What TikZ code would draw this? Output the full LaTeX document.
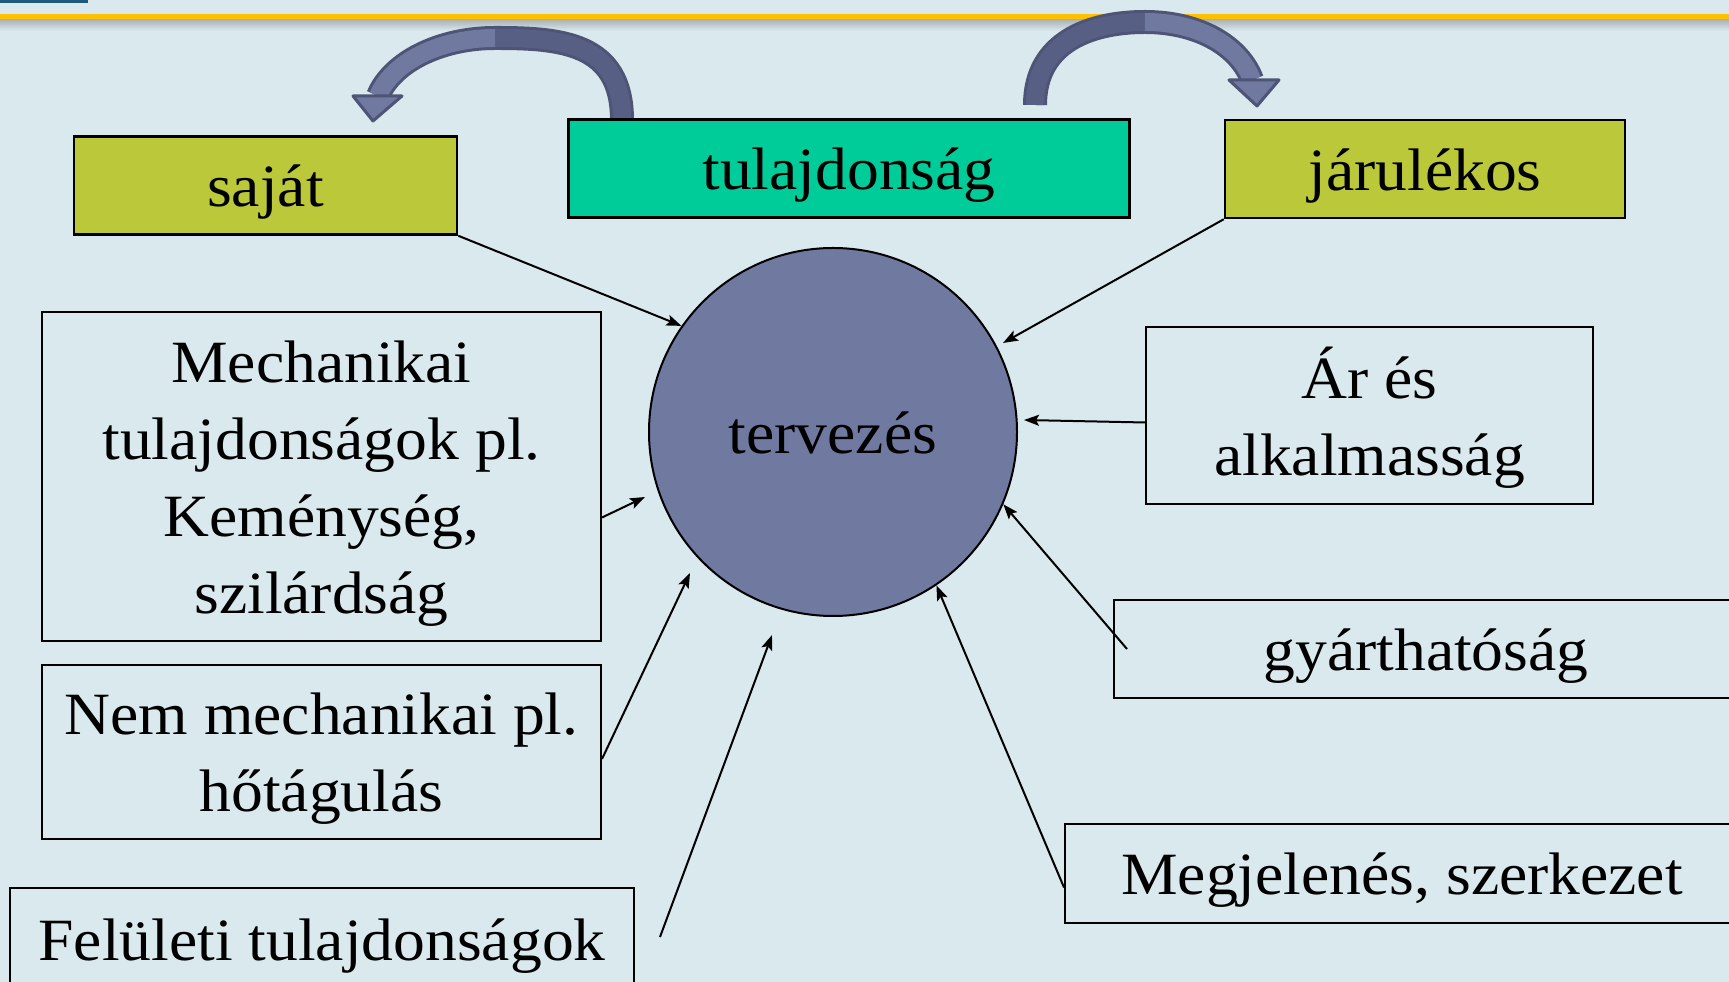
\documentclass[tikz,border=0pt]{standalone}
\usepackage{fontspec}
\setmainfont{Liberation Serif}[FakeStretch=1.06]
\usetikzlibrary{arrows.meta}
\definecolor{bgblue}{RGB}{218,233,238}
\definecolor{lime}{RGB}{187,200,58}
\definecolor{mint}{RGB}{0,204,153}
\definecolor{slate}{RGB}{112,121,160}
\definecolor{slatedark}{RGB}{88,95,132}
\definecolor{slateline}{RGB}{78,84,118}
\definecolor{amber}{RGB}{255,192,0}
\definecolor{navy}{RGB}{31,90,122}
\newcommand\linestrut{\rule[-17pt]{0pt}{77pt}}

\begin{document}
\begin{tikzpicture}[x=1pt,y=1pt,
    every node/.style={font=\fontsize{60}{77}\selectfont,align=center,inner sep=0pt,
      execute at begin node=\linestrut,execute at end node=\linestrut},
    tag/.style={draw,line width=2pt,minimum height=98pt},
    fillbox/.style={draw,line width=2.5pt,minimum height=98pt},
    feed/.style={line width=2pt,-{Stealth[length=15pt,width=11pt,inset=3pt]}},
    bandline/.style={line width=24pt,slateline},
    bandfill/.style={line width=18pt}]
  \useasboundingbox (0,0) rectangle (1729,982);
  \clip (0,0) rectangle (1729,982);
  \fill[bgblue] (0,0) rectangle (1729,982);
  \shade[top color=gray!55!bgblue,bottom color=bgblue] (0,951) rectangle (1729,963);
  \fill[amber] (0,963) rectangle (1729,968);
  \fill[navy] (0,979) rectangle (88,982);

  \draw[bandline] (622,862) .. controls (622,940) and (560,944) .. (495,944) .. controls (440,944) and (392,920) .. (378,886);
  \draw[bandfill,slatedark] (622,862) .. controls (622,940) and (560,944) .. (495,944);
  \draw[bandfill,slate] (495,944) .. controls (440,944) and (392,920) .. (378,886);
  \filldraw[fill=slate,draw=slateline,line width=3pt,line join=round] (353,886) -- (402,886) -- (373,861) -- cycle;

  \draw[bandline] (1035,877) .. controls (1035,940) and (1090,960) .. (1145,960) .. controls (1200,960) and (1240,935) .. (1252,902);
  \draw[bandfill,slatedark] (1035,877) .. controls (1035,940) and (1090,960) .. (1145,960);
  \draw[bandfill,slate] (1145,960) .. controls (1200,960) and (1240,935) .. (1252,902);
  \filldraw[fill=slate,draw=slateline,line width=3pt,line join=round] (1229,902) -- (1279,902) -- (1257,876) -- cycle;

  \node[fillbox,fill=lime,minimum width=383pt] (saja) at (265.5,796.5) {saját};
  \node[fillbox,fill=mint,minimum width=561pt] (tul) at (849,813.5) {tulajdonság};
  \node[fillbox,fill=lime,minimum width=400pt] (jar) at (1425,813) {járulékos};
  \node[tag,minimum width=559pt,minimum height=329pt] (mech) at (321.5,505.5) {\linestrut Mechanikai\\\linestrut tulajdonságok pl.\\\linestrut Keménység,\\\linestrut szilárdság};
  \node[tag,minimum width=559pt,minimum height=174pt] (nem) at (321.5,230) {\linestrut Nem mechanikai pl.\\\linestrut hőtágulás};
  \node[tag,minimum width=624pt,minimum height=102pt] (fel) at (322,43) {Felületi tulajdonságok};
  \node[tag,minimum width=447pt,minimum height=177pt] (ar) at (1369.5,566.5) {\linestrut Ár és\\\linestrut alkalmasság};
  \node[tag,minimum width=624pt] (gyar) at (1426,333) {gyárthatóság};
  \node[tag,minimum width=674pt,minimum height=99pt] (megj) at (1402,108.5) {Megjelenés, szerkezet};
  \node[circle,draw,line width=2pt,fill=slate,minimum size=368pt] (circ) at (833,550) {tervezés};

  \coordinate (t2) at (1003,639);
  \coordinate (t3) at (1024,562);
  \coordinate (t6) at (645,485);
  \coordinate (t7) at (690,409);
  \coordinate (t8) at (772,347);
  \draw[feed] (saja.south east) -- (circ.145.5);
  \draw[feed] (jar.south west) -- (t2);
  \draw[feed] ([yshift=-7pt]ar.west) -- (t3);
  \draw[feed] ([xshift=14pt]gyar.west) -- (circ.-23.5);
  \draw[feed] ([yshift=-14pt]megj.west) -- (circ.-56);
  \draw[feed] ([yshift=-41pt]mech.east) -- (t6);
  \draw[feed] ([yshift=-7pt]nem.east) -- (t7);
  \draw[feed] ([xshift=25pt,yshift=2pt]fel.east) -- (t8);
\end{tikzpicture}
\end{document}
